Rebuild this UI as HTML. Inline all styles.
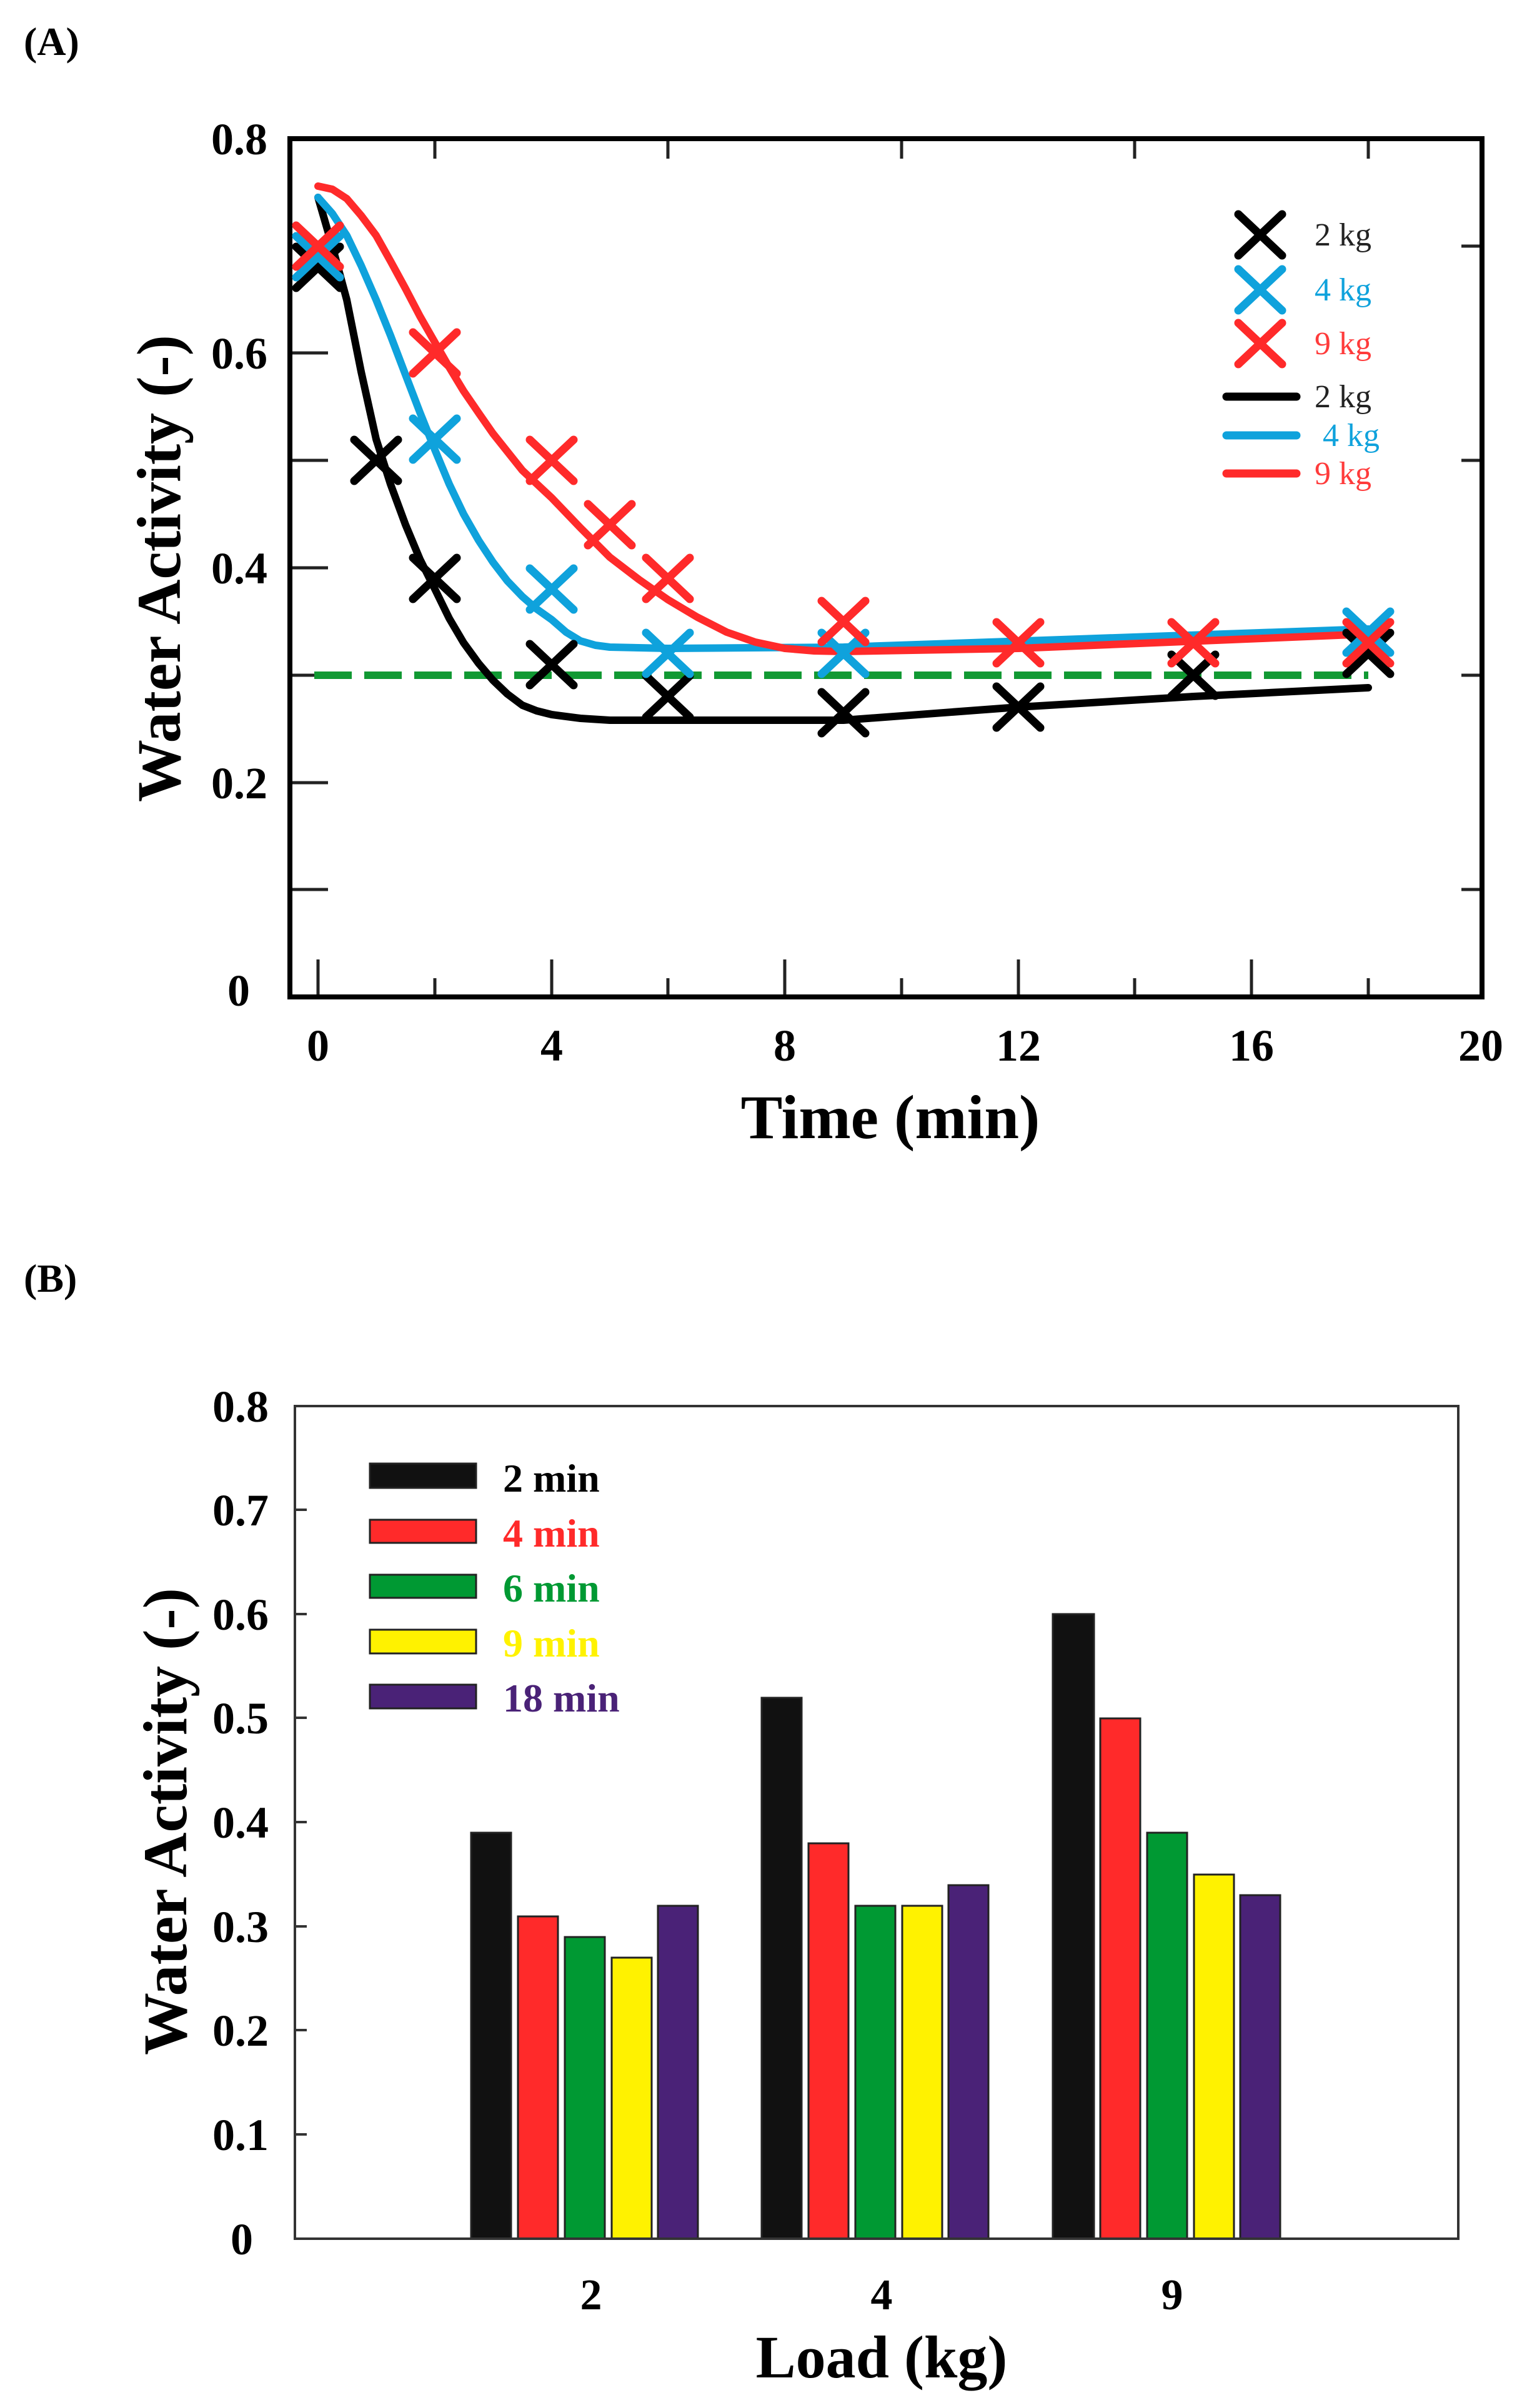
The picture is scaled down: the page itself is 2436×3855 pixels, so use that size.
<!DOCTYPE html>
<html><head><meta charset="utf-8"><style>
html,body{margin:0;padding:0;background:#fff}
svg{display:block}
text{font-family:"Liberation Serif",serif;font-weight:bold}
text.n{font-weight:normal}
</style></head><body>
<svg width="2436" height="3855" viewBox="0 0 2436 3855" xmlns="http://www.w3.org/2000/svg">
<rect width="2436" height="3855" fill="#fff"/>
<!-- ===== Panel A ===== -->
<text x="38" y="88" font-size="64">(A)</text>
<g stroke="#222" stroke-width="5">
 <line x1="509" y1="1596" x2="509" y2="1536"/><line x1="696" y1="1596" x2="696" y2="1566"/>
 <line x1="883" y1="1596" x2="883" y2="1536"/><line x1="1069" y1="1596" x2="1069" y2="1566"/>
 <line x1="1256" y1="1596" x2="1256" y2="1536"/><line x1="1443" y1="1596" x2="1443" y2="1566"/>
 <line x1="1630" y1="1596" x2="1630" y2="1536"/><line x1="1816" y1="1596" x2="1816" y2="1566"/>
 <line x1="2003" y1="1596" x2="2003" y2="1536"/><line x1="2190" y1="1596" x2="2190" y2="1566"/>
 <line x1="696" y1="222" x2="696" y2="254"/><line x1="1069" y1="222" x2="1069" y2="254"/>
 <line x1="1443" y1="222" x2="1443" y2="254"/><line x1="1816" y1="222" x2="1816" y2="254"/>
 <line x1="2190" y1="222" x2="2190" y2="254"/>
 <line x1="464" y1="394" x2="525" y2="394"/><line x1="464" y1="565" x2="525" y2="565"/>
 <line x1="464" y1="737" x2="525" y2="737"/><line x1="464" y1="909" x2="525" y2="909"/>
 <line x1="464" y1="1081" x2="525" y2="1081"/><line x1="464" y1="1253" x2="525" y2="1253"/>
 <line x1="464" y1="1424" x2="525" y2="1424"/>
 <line x1="2372" y1="394" x2="2339" y2="394"/><line x1="2372" y1="737" x2="2339" y2="737"/>
 <line x1="2372" y1="1081" x2="2339" y2="1081"/><line x1="2372" y1="1424" x2="2339" y2="1424"/>
</g>
<rect x="464" y="222" width="1908" height="1374" fill="none" stroke="#000" stroke-width="8"/>
<g font-size="72" text-anchor="end">
 <text x="428" y="247">0.8</text><text x="428" y="590">0.6</text>
 <text x="428" y="934">0.4</text><text x="428" y="1278">0.2</text>
 <text x="400" y="1610">0</text>
</g>
<g font-size="72" text-anchor="middle">
 <text x="509" y="1698">0</text><text x="883" y="1698">4</text><text x="1256" y="1698">8</text>
 <text x="1630" y="1698">12</text><text x="2003" y="1698">16</text><text x="2370" y="1698">20</text>
</g>
<text x="1425" y="1822" font-size="100" text-anchor="middle">Time (min)</text>
<text transform="translate(288,910) rotate(-90)" font-size="100" text-anchor="middle">Water Activity (-)</text>
<line x1="503" y1="1081" x2="2190" y2="1081" stroke="#119933" stroke-width="12" stroke-dasharray="60,20"/>
<g fill="none" stroke-width="12" stroke-linecap="round" stroke-linejoin="round">
 <polyline stroke="#000" points="509,316 532,395 555,480 578,595 602,703 625,775 649,840 672,895 696,943 719,990 742,1029 766,1062 789,1089 812,1111 836,1129 859,1138 883,1144 929,1150 976,1153 1350,1153 1630,1132 1910,1115 2190,1101"/>
 <polyline stroke="#0fa2dc" points="509,316 532,342 555,377 578,425 602,480 625,537 649,600 672,660 696,720 719,775 742,823 766,865 789,900 812,930 836,955 859,975 883,992 906,1012 929,1026 953,1033 976,1036 1069,1038 1350,1036 2190,1007"/>
 <polyline stroke="#ff2a2a" points="509,298 532,303 555,318 578,345 602,377 625,418 649,462 672,506 696,548 719,588 742,626 766,661 789,694 836,753 883,797 929,845 976,892 1023,928 1069,960 1116,988 1163,1012 1209,1028 1256,1038 1303,1042 1350,1043 1630,1038 2190,1015"/>
</g>
<defs><path id="mx" d="M-35,-33 L35,33 M-35,33 L35,-33" stroke-width="13" stroke-linecap="round" fill="none"/></defs>
<g stroke="#000">
 <use href="#mx" x="509" y="428"/><use href="#mx" x="602" y="737"/><use href="#mx" x="696" y="926"/>
 <use href="#mx" x="883" y="1064"/><use href="#mx" x="1069" y="1115"/><use href="#mx" x="1350" y="1141"/>
 <use href="#mx" x="1630" y="1132"/><use href="#mx" x="1910" y="1081"/><use href="#mx" x="2190" y="1046"/>
</g>
<g stroke="#0fa2dc">
 <use href="#mx" x="509" y="411"/><use href="#mx" x="696" y="703"/><use href="#mx" x="883" y="943"/>
 <use href="#mx" x="1069" y="1046"/><use href="#mx" x="1350" y="1046"/><use href="#mx" x="2190" y="1012"/>
</g>
<g stroke="#ff2a2a">
 <use href="#mx" x="509" y="394"/><use href="#mx" x="696" y="565"/><use href="#mx" x="883" y="737"/>
 <use href="#mx" x="976" y="840"/><use href="#mx" x="1069" y="926"/><use href="#mx" x="1350" y="995"/>
 <use href="#mx" x="1630" y="1029"/><use href="#mx" x="1910" y="1029"/><use href="#mx" x="2190" y="1029"/>
</g>
<use href="#mx" x="2017" y="376" stroke="#000"/>
<use href="#mx" x="2017" y="464" stroke="#0fa2dc"/>
<use href="#mx" x="2017" y="550" stroke="#ff2a2a"/>
<g stroke-width="13" stroke-linecap="round">
 <line x1="1963" y1="635" x2="2075" y2="635" stroke="#000"/>
 <line x1="1963" y1="697" x2="2075" y2="697" stroke="#0fa2dc"/>
 <line x1="1963" y1="758" x2="2075" y2="758" stroke="#ff2a2a"/>
</g>
<g font-size="52">
 <text class="n" x="2104" y="393" fill="#222">2 kg</text>
 <text class="n" x="2104" y="481" fill="#0fa2dc">4 kg</text>
 <text class="n" x="2104" y="567" fill="#ff3b3b">9 kg</text>
 <text class="n" x="2104" y="652" fill="#222">2 kg</text>
 <text class="n" x="2117" y="714" fill="#0fa2dc">4 kg</text>
 <text class="n" x="2104" y="775" fill="#ff3b3b">9 kg</text>
</g>

<!-- ===== Panel B ===== -->
<text x="38" y="2068" font-size="64">(B)</text>
<g stroke="#333" stroke-width="4">
 <line x1="472" y1="2417" x2="491" y2="2417"/><line x1="472" y1="2584" x2="491" y2="2584"/>
 <line x1="472" y1="2750" x2="491" y2="2750"/><line x1="472" y1="2917" x2="491" y2="2917"/>
 <line x1="472" y1="3084" x2="491" y2="3084"/><line x1="472" y1="3250" x2="491" y2="3250"/>
 <line x1="472" y1="3417" x2="491" y2="3417"/>
</g>
<g font-size="72" text-anchor="end">
 <text x="430" y="2276">0.8</text><text x="430" y="2442">0.7</text><text x="430" y="2609">0.6</text>
 <text x="430" y="2775">0.5</text><text x="430" y="2942">0.4</text><text x="430" y="3109">0.3</text>
 <text x="430" y="3275">0.2</text><text x="430" y="3442">0.1</text><text x="405" y="3609">0</text>
</g>
<g stroke="#222" stroke-width="3">
 <rect x="754" y="2934" width="64" height="650" fill="#111"/>
 <rect x="829" y="3068" width="64" height="516" fill="#ff2a2a"/>
 <rect x="904" y="3101" width="64" height="483" fill="#009933"/>
 <rect x="979" y="3134" width="64" height="450" fill="#fff200"/>
 <rect x="1053" y="3051" width="64" height="533" fill="#4a2277"/>
 <rect x="1219" y="2718" width="64" height="866" fill="#111"/>
 <rect x="1294" y="2951" width="64" height="633" fill="#ff2a2a"/>
 <rect x="1369" y="3051" width="64" height="533" fill="#009933"/>
 <rect x="1444" y="3051" width="64" height="533" fill="#fff200"/>
 <rect x="1518" y="3018" width="64" height="566" fill="#4a2277"/>
 <rect x="1685" y="2584" width="66" height="1000" fill="#111"/>
 <rect x="1761" y="2751" width="64" height="833" fill="#ff2a2a"/>
 <rect x="1836" y="2934" width="64" height="650" fill="#009933"/>
 <rect x="1911" y="3001" width="64" height="583" fill="#fff200"/>
 <rect x="1985" y="3034" width="64" height="550" fill="#4a2277"/>
</g>
<rect x="472" y="2251" width="1862" height="1333" fill="none" stroke="#333" stroke-width="4"/>
<g stroke="#222" stroke-width="3">
 <rect x="592" y="2343" width="170" height="39" fill="#111"/>
 <rect x="592" y="2433" width="170" height="37" fill="#ff2a2a"/>
 <rect x="592" y="2521" width="170" height="37" fill="#009933"/>
 <rect x="592" y="2609" width="170" height="38" fill="#fff200"/>
 <rect x="592" y="2697" width="170" height="38" fill="#4a2277"/>
</g>
<g font-size="64">
 <text x="805" y="2388" fill="#000">2 min</text>
 <text x="805" y="2476" fill="#ff2a2a">4 min</text>
 <text x="805" y="2564" fill="#009933">6 min</text>
 <text x="805" y="2652" fill="#fff200">9 min</text>
 <text x="805" y="2740" fill="#4a2277">18 min</text>
</g>
<g font-size="70" text-anchor="middle">
 <text x="946" y="3697">2</text><text x="1411" y="3697">4</text><text x="1876" y="3697">9</text>
</g>
<text x="1411" y="3806" font-size="96" text-anchor="middle">Load (kg)</text>
<text transform="translate(298,2916) rotate(-90)" font-size="100" text-anchor="middle">Water Activity (-)</text>
</svg>
</body></html>
